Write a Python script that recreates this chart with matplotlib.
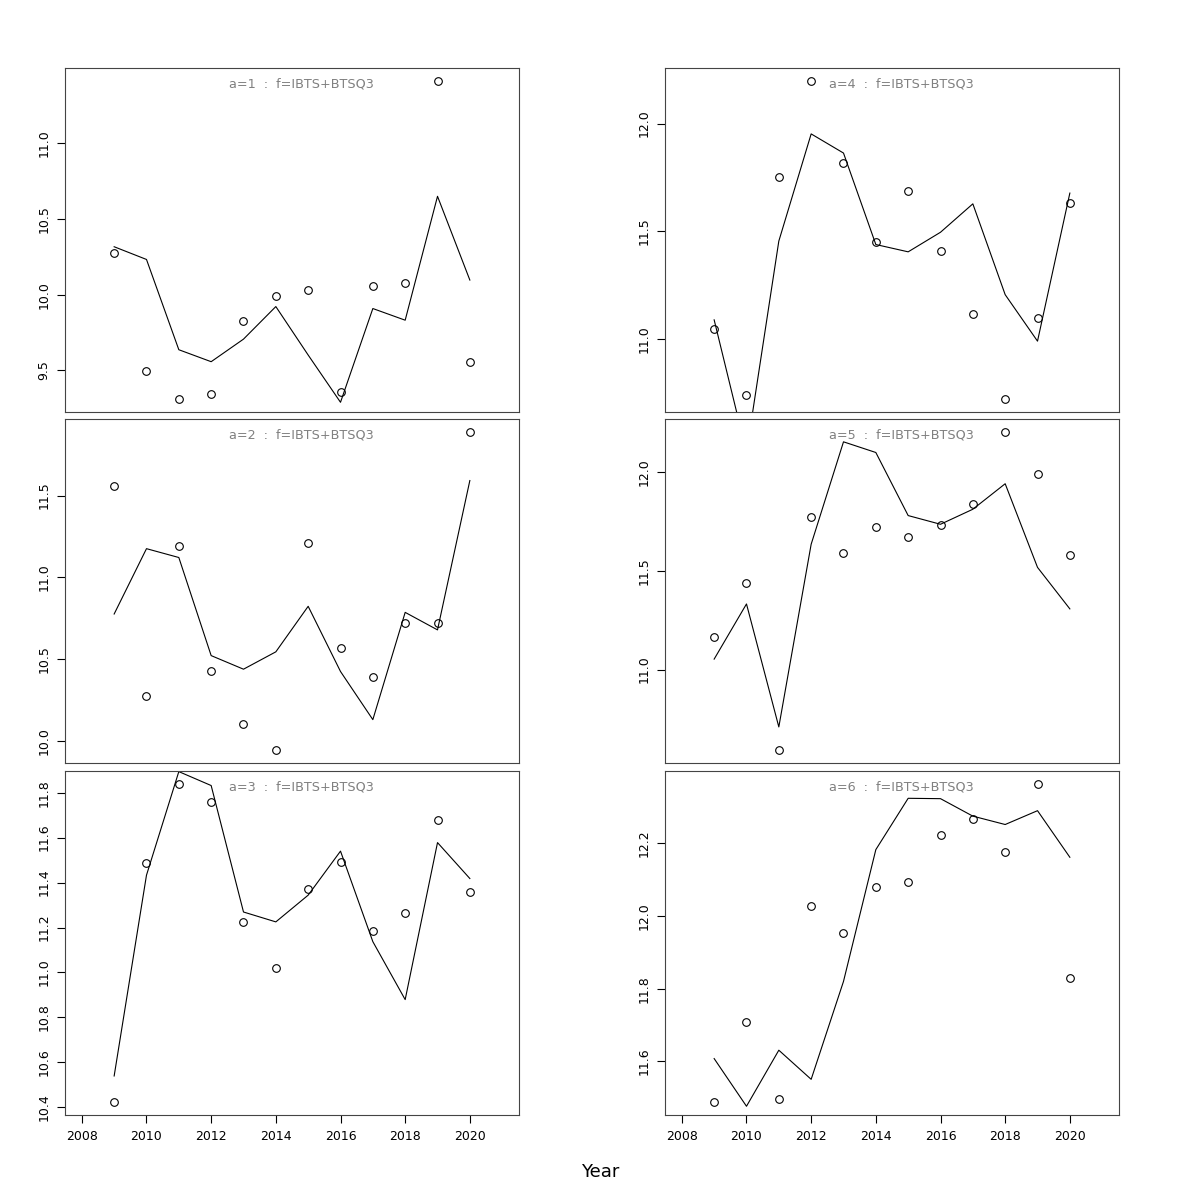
"""Observed vs fitted log index by age, IBTS+BTSQ3 fleet (6 panels)."""

import matplotlib

matplotlib.use("Agg")
import matplotlib.pyplot as plt

years = list(range(2009, 2021))

# observed points (circles) and fitted line, one pair per age
obs_a1 = [10.276, 9.498, 9.309, 9.342, 9.829, 9.989, 10.031, 9.360, 10.055, 10.075, 11.412, 9.553]
fit_a1 = [10.316, 10.232, 9.636, 9.557, 9.706, 9.921, 9.601, 9.289, 9.908, 9.831, 10.649, 10.096]
obs_a2 = [11.560, 10.274, 11.191, 10.432, 10.108, 9.945, 11.213, 10.568, 10.394, 10.720, 10.722, 11.890]
fit_a2 = [10.777, 11.176, 11.122, 10.523, 10.440, 10.546, 10.824, 10.426, 10.132, 10.787, 10.680, 11.592]
obs_a3 = [10.422, 11.485, 11.840, 11.760, 11.223, 11.021, 11.371, 11.491, 11.183, 11.266, 11.677, 11.358]
fit_a3 = [10.539, 11.433, 11.894, 11.832, 11.269, 11.225, 11.344, 11.540, 11.137, 10.879, 11.578, 11.418]
obs_a4 = [11.045, 10.739, 11.752, 12.199, 11.819, 11.449, 11.685, 11.409, 11.117, 10.719, 11.097, 11.631]
fit_a4 = [11.088, 10.472, 11.454, 11.952, 11.863, 11.438, 11.404, 11.495, 11.627, 11.205, 10.989, 11.677]
obs_a5 = [11.167, 11.436, 10.592, 11.772, 11.592, 11.720, 11.671, 11.732, 11.838, 12.203, 11.989, 11.581]
fit_a5 = [11.053, 11.332, 10.710, 11.634, 12.152, 12.098, 11.779, 11.735, 11.811, 11.940, 11.517, 11.307]
obs_a6 = [11.488, 11.708, 11.497, 12.026, 11.953, 12.078, 12.093, 12.221, 12.267, 12.176, 12.363, 11.829]
fit_a6 = [11.608, 11.477, 11.631, 11.551, 11.820, 12.182, 12.323, 12.322, 12.274, 12.251, 12.289, 12.161]

ages = [1, 2, 3, 4, 5, 6]
obs = [obs_a1, obs_a2, obs_a3, obs_a4, obs_a5, obs_a6]
fit = [fit_a1, fit_a2, fit_a3, fit_a4, fit_a5, fit_a6]
fleet = "IBTS+BTSQ3"

yticks = {
	1: [9.5, 10.0, 10.5, 11.0],
	2: [10.0, 10.5, 11.0, 11.5],
	3: [10.4, 10.6, 10.8, 11.0, 11.2, 11.4, 11.6, 11.8],
	4: [11.0, 11.5, 12.0],
	5: [11.0, 11.5, 12.0],
	6: [11.6, 11.8, 12.0, 12.2],
}
xticks = list(range(2008, 2021, 2))

W, H = 1200, 1200
fig = plt.figure(figsize=(12, 12), dpi=100)

col_x = [65, 665]
row_top = [68, 419, 771]
pw, ph = 454, 344

for i, a in enumerate(ages):
	col = i // 3
	row = i % 3
	x0 = col_x[col]
	y0 = row_top[row]
	ax = fig.add_axes([x0 / W, 1 - (y0 + ph) / H, pw / W, ph / H])
	o, f = obs[i], fit[i]
	lo, hi = min(o), max(o)
	pad = 0.04 * (hi - lo)
	ax.set_ylim(lo - pad, hi + pad)
	ax.set_xlim(2007.48, 2021.52)
	ax.plot(years, o, ls="none", marker="o", ms=5.5, mfc="none", mec="black", mew=0.8)
	ax.plot(years, f, color="black", lw=0.8)
	ax.text(0.52, 0.953, f"a={a}  :  f={fleet}", transform=ax.transAxes,
		ha="center", va="center", color="#808080", fontsize=9.2)
	ax.set_yticks(yticks[a])
	ax.set_yticklabels([f"{v:.1f}" for v in yticks[a]], rotation=90, va="center")
	if row == 2:
		ax.set_xticks(xticks)
		ax.set_xticklabels([str(v) for v in xticks])
	else:
		ax.set_xticks([])
	ax.tick_params(labelsize=9, length=6, width=0.8, pad=4.5, colors="black")
	for s in ax.spines.values():
		s.set_color("#444444")
		s.set_linewidth(0.8)

fig.text(600 / W, 1 - 1172 / H, "Year", ha="center", va="center", fontsize=13)

fig.savefig("out.png", dpi=100)
